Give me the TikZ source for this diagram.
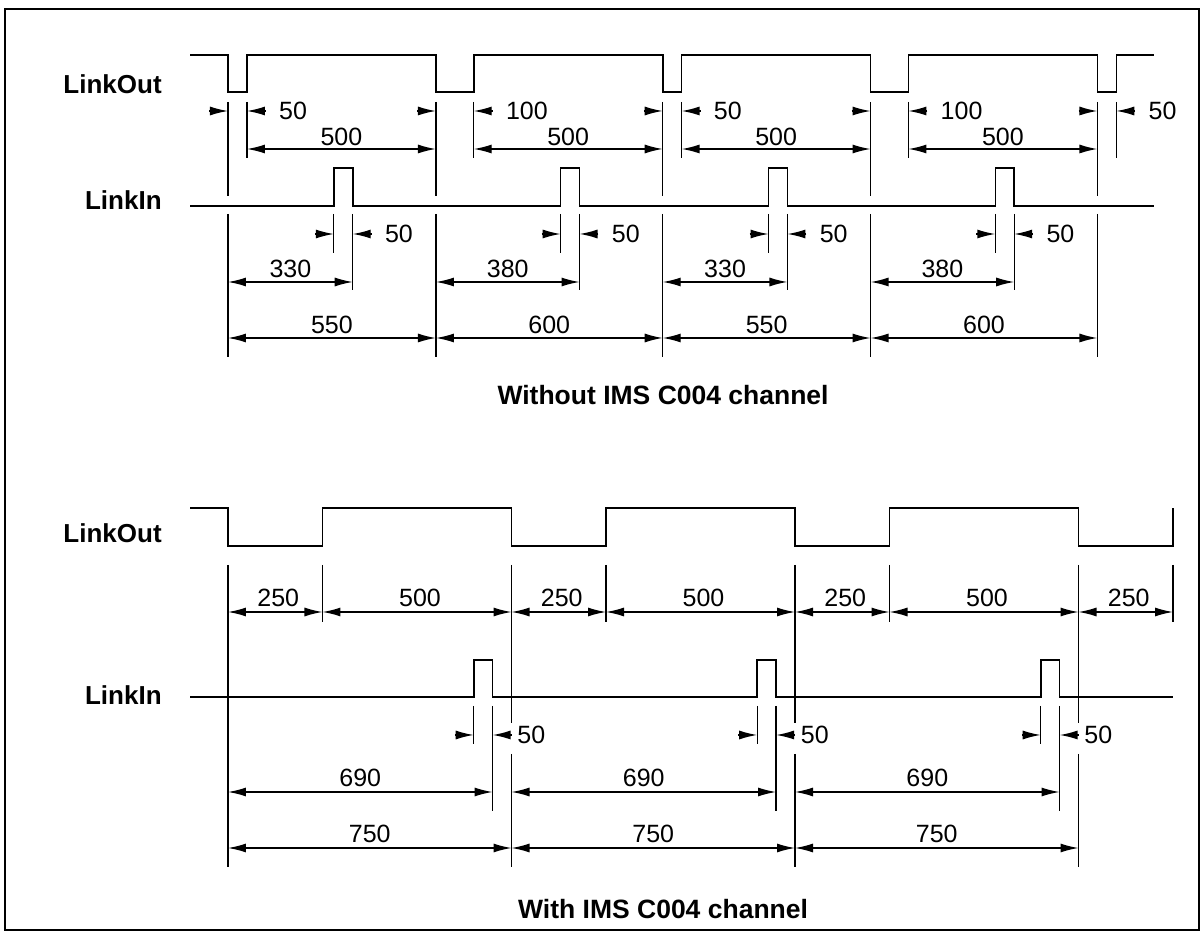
\documentclass[tikz,border=0pt]{standalone}
\usepackage{fontspec}
\setmainfont{Liberation Sans}
\usetikzlibrary{arrows.meta}

\tikzset{
  sig/.style={line width=1.6pt},
  ext/.style={line width=1.3pt},
  dimline/.style={line width=1.4pt,{Latex[length=18pt,width=9pt]}-{Latex[length=18pt,width=9pt]}},
  tipline/.style={line width=1.4pt,-{Latex[length=18pt,width=9pt]}},
  num/.style={font=\fontsize{25}{30}\selectfont,inner sep=0pt},
  signame/.style={font=\fontsize{26}{31}\selectfont\bfseries,inner sep=0pt,anchor=east},
  caption/.style={font=\fontsize{26.5}{32}\selectfont\bfseries,inner sep=0pt}
}

\begin{document}
\begin{tikzpicture}[x=0.378pt,y=-1pt]
\useasboundingbox (-603.17,0) rectangle (2582.01,933);
\draw[line width=1.6pt] (-590,9) rectangle (2569,930);

% without C004
\node[signame] (out1) at (-175,84) {LinkOut};
\node[signame] (in1) at (-175,200) {LinkIn};
\draw[sig] (-100,55) \foreach \a/\b in {0/50,550/650,1150/1200,1700/1800,2300/2350}{ -- (\a,55) -- (\a,92) -- (\b,92) -- (\b,55)} -- (2450,55);
\draw[sig] (-100,206) \foreach \a/\b in {280/330,880/930,1430/1480,2030/2080}{ -- (\a,206) -- (\a,168) -- (\b,168) -- (\b,206)} -- (2450,206);

\foreach \a/\b/\w in {0/50/50,550/650/100,1150/1200/50,1700/1800/100,2300/2350/50}{
  \draw[ext] (\a,102) -- (\a,196) (\a,214) -- (\a,357) (\b,102) -- (\b,158);
  \draw[tipline] (\a-50,111) -- (\a,111);
  \draw[tipline] (\b+50,111) -- (\b,111);
  \node[num,anchor=west] (low\a) at (\b+85,111) {\w};
}
\foreach \a/\b in {50/550,650/1150,1200/1700,1800/2300}
  \draw[dimline] (\a,149) -- (\b,149) node[num,midway,anchor=base,yshift=3pt] (high\a) {500};

\foreach \a/\b/\s/\e/\d/\t in {280/330/0/550/330/550,880/930/550/1150/380/600,1430/1480/1150/1700/330/550,2030/2080/1700/2300/380/600}{
  \draw[ext] (\a,214) -- (\a,253) (\b,214) -- (\b,290);
  \draw[tipline] (\a-50,234) -- (\a,234);
  \draw[tipline] (\b+50,234) -- (\b,234);
  \node[num,anchor=west] (pulse\a) at (\b+85,234) {50};
  \draw[dimline] (\s,282) -- (\b,282) node[num,midway,anchor=base,yshift=4pt] (delay\s) {\d};
  \draw[dimline] (\s,338) -- (\e,338) node[num,midway,anchor=base,yshift=4pt] (cycle\s) {\t};
}
\node[caption] (cap1) at (1151,395) {Without IMS C004 channel};

% with C004
\node[signame] (out2) at (-175,533) {LinkOut};
\node[signame] (in2) at (-175,695) {LinkIn};
\draw[sig] (-100,508) \foreach \a/\b in {0/250,750/1000,1500/1750}{ -- (\a,508) -- (\a,546) -- (\b,546) -- (\b,508)} -- (2250,508) -- (2250,546) -- (2500,546) -- (2500,508);
\draw[sig] (-100,697) \foreach \a/\b in {650/700,1400/1450,2150/2200}{ -- (\a,697) -- (\a,660) -- (\b,660) -- (\b,697)} -- (2500,697);

\draw[ext] (0,565) -- (0,867);
\foreach \t in {250,1000,1750,2500}
  \draw[ext] (\t,565) -- (\t,622);
\foreach \t in {750,1500,2250}
  \draw[ext] (\t,565) -- (\t,723) (\t,754) -- (\t,867);
\foreach \a/\b/\w in {0/250/250,250/750/500,750/1000/250,1000/1500/500,1500/1750/250,1750/2250/500,2250/2500/250}
  \draw[dimline] (\a,612) -- (\b,612) node[num,midway,anchor=base,yshift=5pt,xshift=3pt] (phase\a) {\w};

\foreach \a/\b/\s in {650/700/0,1400/1450/750,2150/2200/1500}{
  \draw[ext] (\a,706) -- (\a,744) (\b,706) -- (\b,811);
  \draw[tipline] (\a-50,735) -- (\a,735);
  \draw[tipline] (\b+50,735) -- (\b,735);
  \node[num,anchor=west] (ack\a) at (\b+65,735) {50};
  \draw[dimline] (\s,792) -- (\b,792) node[num,midway,anchor=base,yshift=5pt] (wait\s) {690};
  \draw[dimline] (\s,848) -- (\s+750,848) node[num,midway,anchor=base,yshift=5pt] (period\s) {750};
}
\node[caption] (cap2) at (1151,909) {With IMS C004 channel};
\end{tikzpicture}
\end{document}
